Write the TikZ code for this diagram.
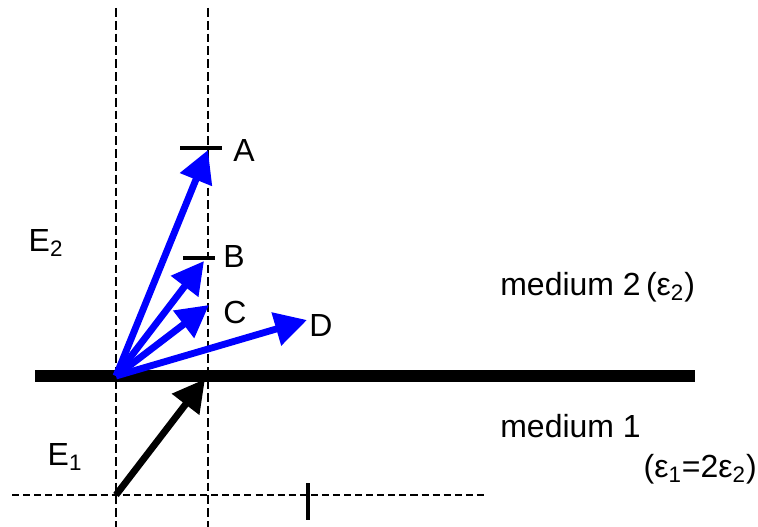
\documentclass[tikz,border=0pt]{standalone}
\usepackage{fontspec}
\setmainfont{Liberation Sans}
\usetikzlibrary{arrows.meta}
\begin{document}
\begin{tikzpicture}[x=0.02cm,y=-0.02cm,
	feld/.style={line width=3.9pt,-{Triangle[length=0.64cm,width=0.66cm]}},
	hilfslinie/.style={line width=1.7pt,dash pattern=on 5pt off 2.3pt},
	marke/.style={line width=1.9pt},
	beschriftung/.style={font=\fontsize{18.2}{21}\selectfont,inner sep=0pt}]
	\useasboundingbox (0,0) rectangle (758,527);

	% Punkte
	\coordinate (Ursprung) at (116,376);
	\coordinate (Start) at (116,495);
	\coordinate (Spitze) at (205,379);
	\coordinate (A) at (208,150);
	\coordinate (B) at (204,261);
	\coordinate (C) at (209,305);
	\coordinate (D) at (307,320);

	% Hilfslinien
	\coordinate (LinksOben) at (116,8);
	\coordinate (LinksUnten) at (116,527);
	\coordinate (RechtsOben) at (208,8);
	\coordinate (RechtsUnten) at (208,527);
	\coordinate (UntenLinks) at (12,495);
	\coordinate (UntenRechts) at (487,495);
	\draw[hilfslinie] (LinksOben) -- (LinksUnten);
	\draw[hilfslinie] (RechtsOben) -- (RechtsUnten);
	\draw[hilfslinie,dash pattern=on 4pt off 2.3pt] (UntenLinks) -- (UntenRechts);

	% Grenzflaeche
	\coordinate (GrenzeLinks) at (35,376);
	\coordinate (GrenzeRechts) at (695,376);
	\draw[line width=0.23cm] (GrenzeLinks) -- (GrenzeRechts);

	% Marken
	\coordinate (MarkeOben) at (308,483);
	\coordinate (MarkeUnten) at (308,520);
	\draw[marke] (MarkeOben) -- (MarkeUnten);
	\coordinate (MarkeA1) at (180,148);
	\coordinate (MarkeA2) at (222,148);
	\draw[marke] (MarkeA1) -- (MarkeA2);
	\coordinate (MarkeB1) at (183,258);
	\coordinate (MarkeB2) at (215,258);
	\draw[marke] (MarkeB1) -- (MarkeB2);

	% Feldvektoren
	\draw[feld] (Start) -- (Spitze);
	\draw[feld,blue] (Ursprung) -- (A);
	\draw[feld,blue] (Ursprung) -- (B);
	\draw[feld,blue] (Ursprung) -- (C);
	\draw[feld,blue] (Ursprung) -- (D);

	% Beschriftung
	\node[beschriftung] (textA) at (244,151) {A};
	\node[beschriftung] (textB) at (234,256) {B};
	\node[beschriftung] (textC) at (235,312) {C};
	\node[beschriftung] (textD) at (321,326) {D};
	\node[beschriftung] (textE2) at (46,243) {E\textsubscript{2}};
	\node[beschriftung] (textE1) at (65,457) {E\textsubscript{1}};
	\node[beschriftung,anchor=west] (medium2) at (500,287) {medium 2\,(ε\textsubscript{2})};
	\node[beschriftung,anchor=west] (medium1) at (500,426) {medium 1};
	\node[beschriftung,anchor=east] (verhaeltnis) at (757,469) {(ε\textsubscript{1}=2ε\textsubscript{2})};
\end{tikzpicture}
\end{document}
